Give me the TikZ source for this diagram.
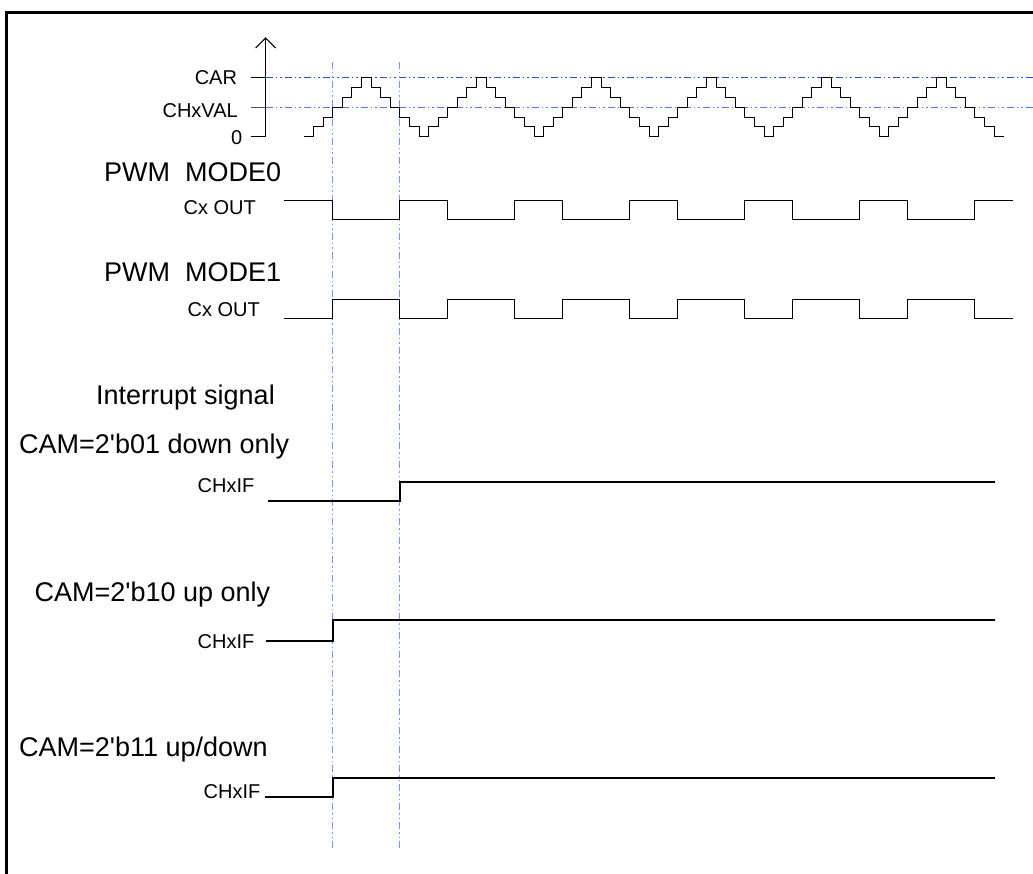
\documentclass[tikz,border=0pt]{standalone}
\usepackage{fontspec}
\setmainfont{Liberation Sans}
\usetikzlibrary{arrows.meta}
\definecolor{dblue}{HTML}{1E4FF0}
\definecolor{mblue}{HTML}{4A78FF}
\definecolor{lblue}{HTML}{6F95FF}
\definecolor{tickgrey}{HTML}{555555}
\def\stw{9.5833}
\def\sth{9.833}
\begin{document}
\begin{tikzpicture}[x=1pt,y=-1pt,
  small/.style={font=\fontsize{20}{24}\selectfont, inner sep=0pt},
  big/.style={font=\fontsize{27}{32}\selectfont, inner sep=0pt},
  sig/.style={line width=1pt, black},
  irq/.style={line width=2.3pt, black},
  guide/.style={line width=1.5pt, dash pattern=on 7pt off 3pt on 1.5pt off 3pt on 1.5pt off 3pt},
  frame/.style={line width=2.2pt, black}]
\useasboundingbox (0,0) rectangle (1033,874);
% frame
\draw[frame] (6.5,874) -- (6.5,12.5) -- (1033,12.5);
% guide coordinates
\coordinate (hcarL) at (265.7,77.5);
\coordinate (hcarR) at (1033,77.5);
\coordinate (hvalL) at (265.7,107.5);
\coordinate (hvalR) at (1033,107.5);
\coordinate (v1t) at (332.5,62);
\coordinate (v1b) at (332.5,850);
\coordinate (v2t) at (399.5,62);
\coordinate (v2b) at (399.5,850);
\draw[guide, draw=dblue] (hcarL) -- (hcarR);
\draw[guide, draw=mblue] (hvalL) -- (hvalR);
\draw[guide, draw=lblue] (v1t) -- (v1b);
\draw[guide, draw=lblue] (v2t) -- (v2b);
% axis
\coordinate (ax0) at (265.7,136.7);
\coordinate (axtop) at (265.7,37.3);
\draw[sig, -{Straight Barb[length=10pt,width=20pt,line width=1pt]}] (ax0) -- (axtop);
\coordinate (tcar) at (250.7,77.5);
\coordinate (tval) at (250.7,107.5);
\coordinate (tzero) at (250.7,136.7);
\draw[sig] (tcar) -- (hcarL);
\draw[sig, tickgrey] (tval) -- (hvalL);
\draw[sig] (tzero) -- (ax0);
% axis labels
\node[small, anchor=base east] (car) at (237.2,84.5) {CAR};
\node[small, anchor=base east] (chxval) at (238,118) {CHxVAL};
\node[small, anchor=base east] (zero) at (242.5,145) {0};
% counter staircase
\coordinate (cnt0) at (304,136.7);
\draw[sig] (cnt0) \foreach \k in {1,...,6}{
    \foreach \j in {1,...,6}{ -- ++(\stw,0) -- ++(0,-\sth) }
    \foreach \j in {1,...,6}{ -- ++(\stw,0) -- ++(0,\sth) }
  } -- ++(\stw,0);
% PWM mode 0
\node[big, anchor=base west] (m0) at (104,181.7) {PWM\ \ MODE0};
\node[small, anchor=base east] (o0) at (256,215) {Cx OUT};
\coordinate (o0s) at (284.3,200.5);
\coordinate (o0e) at (1013.3,200.5);
\draw[sig] (o0s) \foreach \k in {0,...,5}{ -| ({332.75+115*\k},220) -| ({399.83+115*\k},200.5) } -- (o0e);
% PWM mode 1
\node[big, anchor=base west] (m1) at (104,281.7) {PWM\ \ MODE1};
\node[small, anchor=base east] (o1) at (260,316.7) {Cx OUT};
\coordinate (o1s) at (284.3,319);
\coordinate (o1e) at (1013.3,319);
\draw[sig] (o1s) \foreach \k in {0,...,5}{ -| ({332.75+115*\k},299.3) -| ({399.83+115*\k},319) } -- (o1e);
% interrupts
\node[big, anchor=base west] (intr) at (96,404) {Interrupt signal};
\node[big, anchor=base west] (cam1) at (19,453.5) {CAM=2\textquotesingle b01 down only};
\node[small, anchor=base east] (if1) at (254.5,492.3) {CHxIF};
\coordinate (i1s) at (267.7,501);
\coordinate (i1e) at (995,481.7);
\draw[irq] (i1s) -| (399.83,481.7) -- (i1e);
\node[big, anchor=base west] (cam2) at (34.5,601) {CAM=2\textquotesingle b10 up only};
\node[small, anchor=base east] (if2) at (254.5,648.3) {CHxIF};
\coordinate (i2s) at (265.7,640.7);
\coordinate (i2e) at (995,620);
\draw[irq] (i2s) -| (332.75,620) -- (i2e);
\node[big, anchor=base west] (cam3) at (19,756) {CAM=2\textquotesingle b11 up/down};
\node[small, anchor=base east] (if3) at (260.5,798.3) {CHxIF};
\coordinate (i3s) at (265,797.3);
\coordinate (i3e) at (995,778);
\draw[irq] (i3s) -| (332.75,778) -- (i3e);
\end{tikzpicture}
\end{document}
